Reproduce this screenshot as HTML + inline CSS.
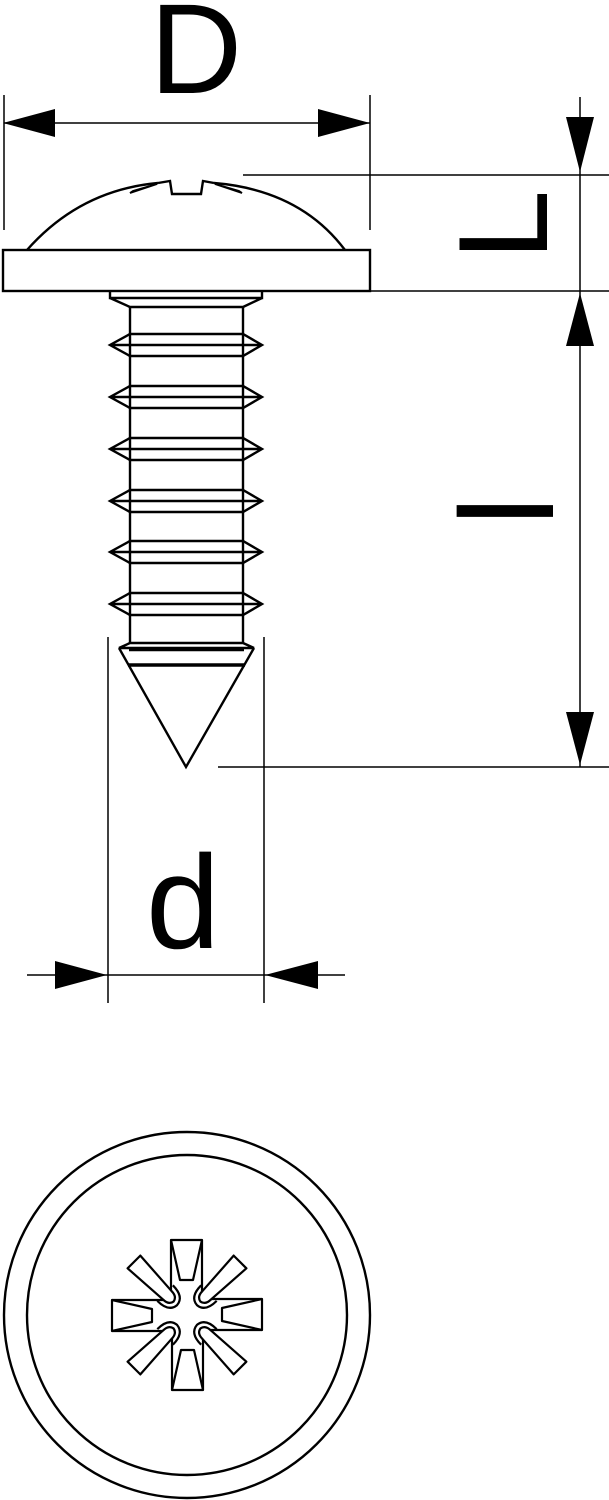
<!DOCTYPE html>
<html><head><style>html,body{margin:0;padding:0;background:#fff}svg{display:block}</style></head>
<body>
<svg width="609" height="1500" viewBox="0 0 609 1500" xmlns="http://www.w3.org/2000/svg" font-family="Liberation Sans, sans-serif">
<g stroke="#000" fill="none" stroke-width="1.5">
 <line x1="4" y1="95" x2="4" y2="230"/>
 <line x1="370" y1="95" x2="370" y2="230"/>
 <line x1="4" y1="123" x2="370" y2="123"/>
 <line x1="243" y1="175" x2="609" y2="175"/>
 <line x1="370" y1="291" x2="609" y2="291"/>
 <line x1="218" y1="767" x2="609" y2="767"/>
 <line x1="580" y1="97" x2="580" y2="767"/>
 <line x1="108" y1="637" x2="108" y2="1003"/>
 <line x1="264" y1="637" x2="264" y2="1003"/>
 <line x1="27" y1="975" x2="345" y2="975"/>
</g>
<g fill="#000">
 <polygon points="3,123 55,109 55,137"/>
 <polygon points="370,123 318,109 318,137"/>
 <polygon points="580,172 566,117 594,117"/>
 <polygon points="580,293 566,346 594,346"/>
 <polygon points="580,765 566,712 594,712"/>
 <polygon points="107,975 55,961 55,989"/>
 <polygon points="265,975 318,961 318,989"/>
</g>
<g fill="#000">
 <text x="196" y="93" font-size="128" text-anchor="middle">D</text>
 <text x="183" y="948" font-size="133" text-anchor="middle">d</text>
 <text transform="translate(547,225) rotate(-90)" font-size="127" text-anchor="middle">L</text>
 <text transform="translate(553,511) rotate(-90)" font-size="133" text-anchor="middle">l</text>
</g>
<g stroke="#000" fill="none" stroke-width="2.4" stroke-linejoin="miter">
 <rect x="3" y="250" width="367" height="41"/>
 <path d="M27,250 Q80,190 158,183 M214,183 Q300,190 345,250"/>
 <path d="M158,183 L170,181 L172,194 L201,194 L203,181 L214,183" />
 <path d="M130,193 L157,184 L133,191 Z M242,193 L215,184 L239,191 Z" stroke-width="1.8"/>
 <path d="M110,291 L110,298 L262,298 L262,291 M110,298 L130,307 L243,307 L262,298"/>
 <line x1="130" y1="307" x2="130" y2="643"/>
 <line x1="243" y1="307" x2="243" y2="643"/>
 <g id="t">
  <path d="M130,334 L243,334 L262,345 L243,356 L130,356 L110,345 Z M110,345 L262,345"/>
 </g>
 <use href="#t" y="52"/>
 <use href="#t" y="104"/>
 <use href="#t" y="156"/>
 <use href="#t" y="207"/>
 <use href="#t" y="259"/>
 <path d="M130,643 L243,643 L254,648 L119,648 Z M119,648 L186,767 L254,648 M129,650 L244,650"/>
 <line x1="128" y1="665" x2="245" y2="665" stroke-width="3.5"/>
 <circle cx="187" cy="1315" r="183"/>
 <circle cx="187" cy="1315" r="160"/>
</g>
<g stroke="#000" fill="#fff" stroke-width="2.2" stroke-linejoin="round">
 <g id="ar">
  <path d="M171,1292 L171,1240 L202,1240 L202,1292"/>
  <path d="M171,1240 L180,1280 L193,1280 L202,1240" fill="none"/>
 </g>
 <use href="#ar" transform="rotate(90 187 1315)"/>
 <use href="#ar" transform="rotate(180 187 1315)"/>
 <use href="#ar" transform="rotate(270 187 1315)"/>
 <g id="dg" transform="rotate(-45 187 1315)">
  <path d="M178,1240 L196,1240 L193,1287 Q193,1295 187,1296 Q181,1295 181,1287 Z"/>
  <path d="M176,1284 Q176,1300 187,1301 Q198,1300 198,1284" fill="none"/>
 </g>
 <use href="#dg" transform="rotate(90 187 1315)"/>
 <use href="#dg" transform="rotate(180 187 1315)"/>
 <use href="#dg" transform="rotate(270 187 1315)"/>
</g>
</svg>
</body></html>
